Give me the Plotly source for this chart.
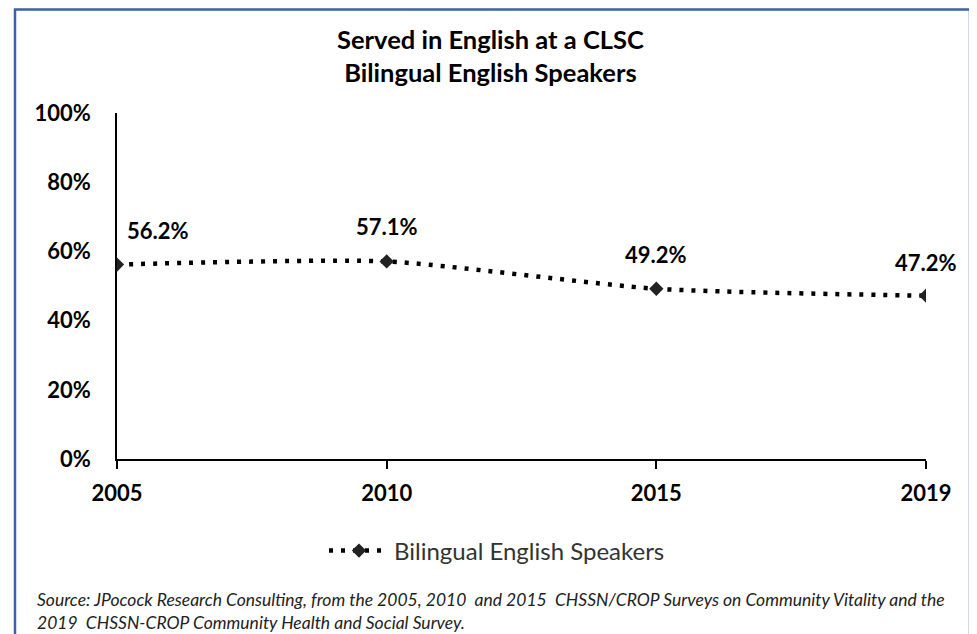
import plotly.graph_objects as go

years = ["2005", "2010", "2015", "2019"]
values = [56.2, 57.1, 49.2, 47.2]
labels = ["56.2%", "57.1%", "49.2%", "47.2%"]
y_ticks = [0, 20, 40, 60, 80, 100]
y_tick_text = ["0%", "20%", "40%", "60%", "80%", "100%"]
series_name = "Bilingual English Speakers"
title_lines = ["Served in English at a CLSC", "Bilingual English Speakers"]
source_lines = [
    "Source: JPocock Research Consulting, from the 2005, 2010  and 2015  CHSSN/CROP Surveys on Community Vitality and the",
    "2019  CHSSN-CROP Community Health and Social Survey.",
]

OFF = 8  # page body margin
W, H = 977 - OFF, 634 - OFF
L, T = 117 - OFF, 113 - OFF
R = W - (926 - OFF)
B = H - (459 - OFF)
PW = W - L - R
PH = H - T - B

def sx(x):
    return (x - OFF - L) / PW

def sy(y):
    return (H - B - (y - OFF)) / PH

FONT = "Lato"
BLUE = "#3A62AA"

fig = go.Figure()
fig.add_trace(go.Scatter(
    x=years, y=values, name=series_name, mode="lines+markers",
    line=dict(color="black", width=4.5, dash="4px,8px", shape="spline", smoothing=0.6),
    marker=dict(symbol="diamond", size=11, color="#222"),
))

shifts = [(41, 34), (0, 35), (0, 34), (0, 33)]
for i, (yv, t, (dx, dy)) in enumerate(zip(values, labels, shifts)):
    fig.add_annotation(x=i, y=yv, text="<b>" + t + "</b>", showarrow=False,
                       xshift=dx, yshift=dy, font=dict(family=FONT, size=22, color="black"))

fig.add_annotation(xref="paper", yref="paper", x=sx(490), y=sy(56),
                   text="<b>" + "<br>".join(title_lines) + "</b>", showarrow=False,
                   font=dict(family=FONT, size=25.5, color="black"), align="center",
                   yanchor="middle")

fig.add_annotation(xref="paper", yref="paper", x=sx(35), y=sy(611),
                   text="<i>" + "<br>".join(source_lines) + "</i>", showarrow=False,
                   xanchor="left", yanchor="middle", align="left",
                   font=dict(family=FONT, size=17.5, color="#222"))

shapes = [
    dict(type="rect", xref="paper", yref="paper", x0=sx(15), x1=sx(970), y0=sy(9.5), y1=sy(700),
         line=dict(color=BLUE, width=2.5)),
]

fig.update_layout(
    width=W, height=H,
    margin=dict(l=L, r=R, t=T, b=B),
    plot_bgcolor="white", paper_bgcolor="white",
    shapes=shapes,
    showlegend=True,
    legend=dict(orientation="h", x=sx(497), xanchor="center", y=sy(551), yanchor="middle",
                font=dict(family=FONT, size=24, color="#333"), itemwidth=60),
    xaxis=dict(type="category", range=[0, 3], showline=True, linecolor="black", linewidth=2,
               ticks="outside", ticklen=8, tickwidth=2, tickcolor="black", showgrid=False,
               tickfont=dict(family=FONT, size=22, color="black", weight="bold"),
               ticklabelstandoff=6, zeroline=False),
    yaxis=dict(range=[0, 100], tickvals=y_ticks, ticktext=y_tick_text, showline=True,
               linecolor="black", linewidth=1.5, ticks="", showgrid=False, zeroline=False,
               tickfont=dict(family=FONT, size=22, color="black", weight="bold"),
               ticklabelstandoff=20),
)

fig.write_html("out.html")
